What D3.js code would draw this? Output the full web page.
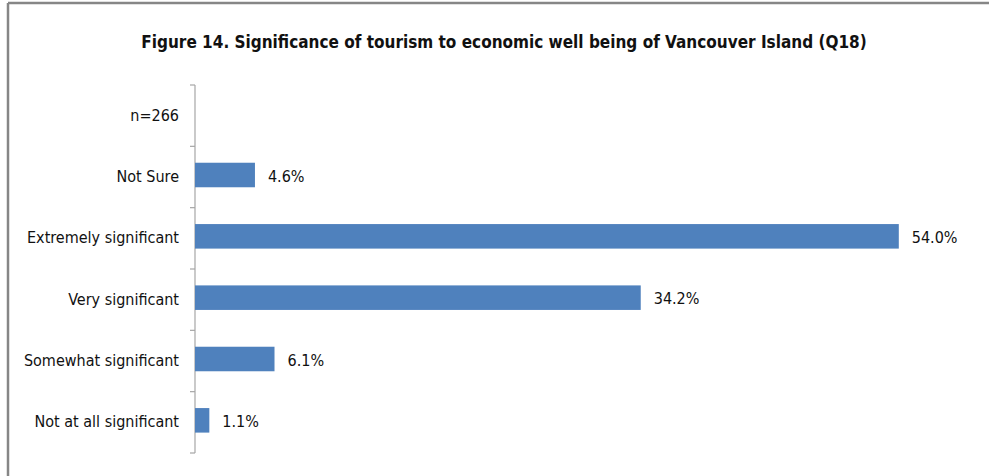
<!DOCTYPE html>
<html>
<head>
<meta charset="utf-8">
<script src="https://cdn.jsdelivr.net/npm/d3@7"></script>
<style>
  body { margin: 0; background: #fff; }
  svg text { font-family: "Liberation Sans Narrow", "DejaVu Sans Condensed", sans-serif; }
</style>
</head>
<body>
<svg id="chart" width="989" height="476"></svg>
<script>
// categories top to bottom, values in percent (n=266 row has no bar)
const categories = ["n=266", "Not Sure", "Extremely significant", "Very significant", "Somewhat significant", "Not at all significant"];
const values = [null, 4.6, 54.0, 34.2, 6.1, 1.1];
const valueLabels = ["", "4.6%", "54.0%", "34.2%", "6.1%", "1.1%"];

const svg = d3.select("#chart");
const width = 989;
const height = 476;

const margin = { top: 85, right: 12, bottom: 23, left: 195 };

// frame, top and left edge only show in the picture
svg.append("line")
  .attr("x1", 8).attr("x2", width).attr("y1", 3).attr("y2", 3)
  .attr("stroke", "#868686").attr("stroke-width", 2.5)
svg.append("line")
  .attr("x1", 8).attr("x2", 8).attr("y1", 3).attr("y2", height)
  .attr("stroke", "#868686").attr("stroke-width", 2.5)

svg.append("text")
  .attr("x", 504)
  .attr("y", 48)
  .attr("text-anchor", "middle")
  .attr("font-size", "17px")
  .attr("font-weight", "bold")
  .attr("fill", "#111")
  .text("Figure 14. Significance of tourism to economic well being of Vancouver Island (Q18)")

const x = d3.scaleLinear().domain([0, 60]).range([margin.left, width - margin.right]);
const y = d3.scaleBand().domain(categories).range([margin.top, height - margin.bottom]).paddingInner(0.6).paddingOuter(0.3);

const yAxis = d3.axisLeft(y).tickSize(0).tickPadding(16);
const gy = svg.append("g")
  .attr("transform", "translate(" + margin.left + ",0)")
  .call(yAxis);
gy.select(".domain").remove();
gy.selectAll("text")
  .attr("font-size", "16px")
  .attr("fill", "#111");

// axis line with ticks between categories
const bandTop = margin.top;
const bandBottom = height - margin.bottom;
svg.append("line")
  .attr("x1", margin.left).attr("x2", margin.left)
  .attr("y1", bandTop).attr("y2", bandBottom)
  .attr("stroke", "#a6a6a6").attr("stroke-width", 1.2)
const bounds = d3.range(categories.length + 1).map(i => bandTop + (bandBottom - bandTop) * i / categories.length);
svg.selectAll(".tick-mark")
  .data(bounds)
  .join("line")
  .attr("class", "tick-mark")
  .attr("x1", margin.left - 5).attr("x2", margin.left)
  .attr("y1", d => d).attr("y2", d => d)
  .attr("stroke", "#a6a6a6").attr("stroke-width", 1.2)

const rows = categories.map((c, i) => ({ cat: c, value: values[i], label: valueLabels[i] })).filter(d => d.value != null);

svg.selectAll(".bar")
  .data(rows)
  .join("rect")
  .attr("class", "bar")
  .attr("x", x(0))
  .attr("y", d => y(d.cat) - 2)
  .attr("width", d => x(d.value) - x(0))
  .attr("height", y.bandwidth())
  .attr("fill", "#4f81bd")

svg.selectAll(".val")
  .data(rows)
  .join("text")
  .attr("class", "val")
  .attr("x", d => x(d.value) + 13)
  .attr("y", d => y(d.cat) + y.bandwidth() / 2 - 1)
  .attr("dy", "0.35em")
  .attr("font-size", "16px")
  .attr("fill", "#111")
  .text(d => d.label)
</script>
</body>
</html>
